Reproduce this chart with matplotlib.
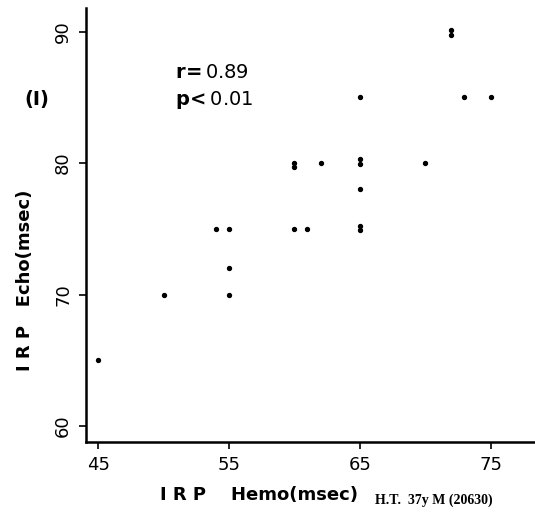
import matplotlib
matplotlib.use("Agg")
import matplotlib.pyplot as plt

# IRP by hemodynamics vs IRP by echo (msec)
hemo = [45, 50, 55, 55, 54, 55, 60, 61, 60, 60, 62, 65, 65, 65, 65, 65, 65, 70, 72, 72, 73, 75]
echo = [65, 70, 70, 72, 75, 75, 75, 75, 80, 79.7, 80, 85, 80.3, 79.9, 78, 75.2, 74.9, 80, 90.1, 89.75, 85, 85]

xticks = [45, 55, 65, 75]
yticks = [60, 70, 80, 90]

plt.rcParams['font.family'] = ['DejaVu Sans']

fig = plt.figure(figsize=(5.35, 5.16), dpi=100)
ax = fig.add_axes([0.1607, 0.1434, 0.8393, 0.841])

ax.scatter(hemo, echo, s=8, color='black', zorder=3)

ax.set_xlim(44.06, 78.4)
ax.set_ylim(58.78, 91.8)
ax.set_xticks(xticks)
ax.set_yticks(yticks)
ax.set_xticklabels([str(t) for t in xticks], fontsize=13)
ax.set_yticklabels([str(t) for t in yticks], fontsize=13, rotation=90, va='center')

for s in ['top', 'right']:
    ax.spines[s].set_visible(False)
for s in ['left', 'bottom']:
    ax.spines[s].set_linewidth(1.8)
ax.tick_params(axis='both', direction='out', length=5, width=1.2, pad=5)

fig.text(175 / 535, 1 - 72 / 516, r'$\mathbf{r\!=}$0.89', fontsize=14, va='center', ha='left')
fig.text(175 / 535, 1 - 100 / 516, r'$\mathbf{p\!<}$0.01', fontsize=14, va='center', ha='left')

fig.text(37 / 535, 1 - 100 / 516, '(I)', fontsize=14, fontweight='bold', va='center', ha='center')

fig.text(25 / 535, 1 - 280 / 516, 'I R P   Echo(msec)', fontsize=13, fontweight='bold', rotation=90,
         va='center', ha='center')
fig.text(160 / 535, 1 - 495 / 516, 'I R P    Hemo(msec)', fontsize=13, fontweight='bold',
         va='center', ha='left')
fig.text(375 / 535, 1 - 500 / 516, 'H.T.  37y M (20630)', fontsize=10, fontweight='bold',
         va='center', ha='left', family='Liberation Serif')

fig.savefig('out.png', dpi=100)
